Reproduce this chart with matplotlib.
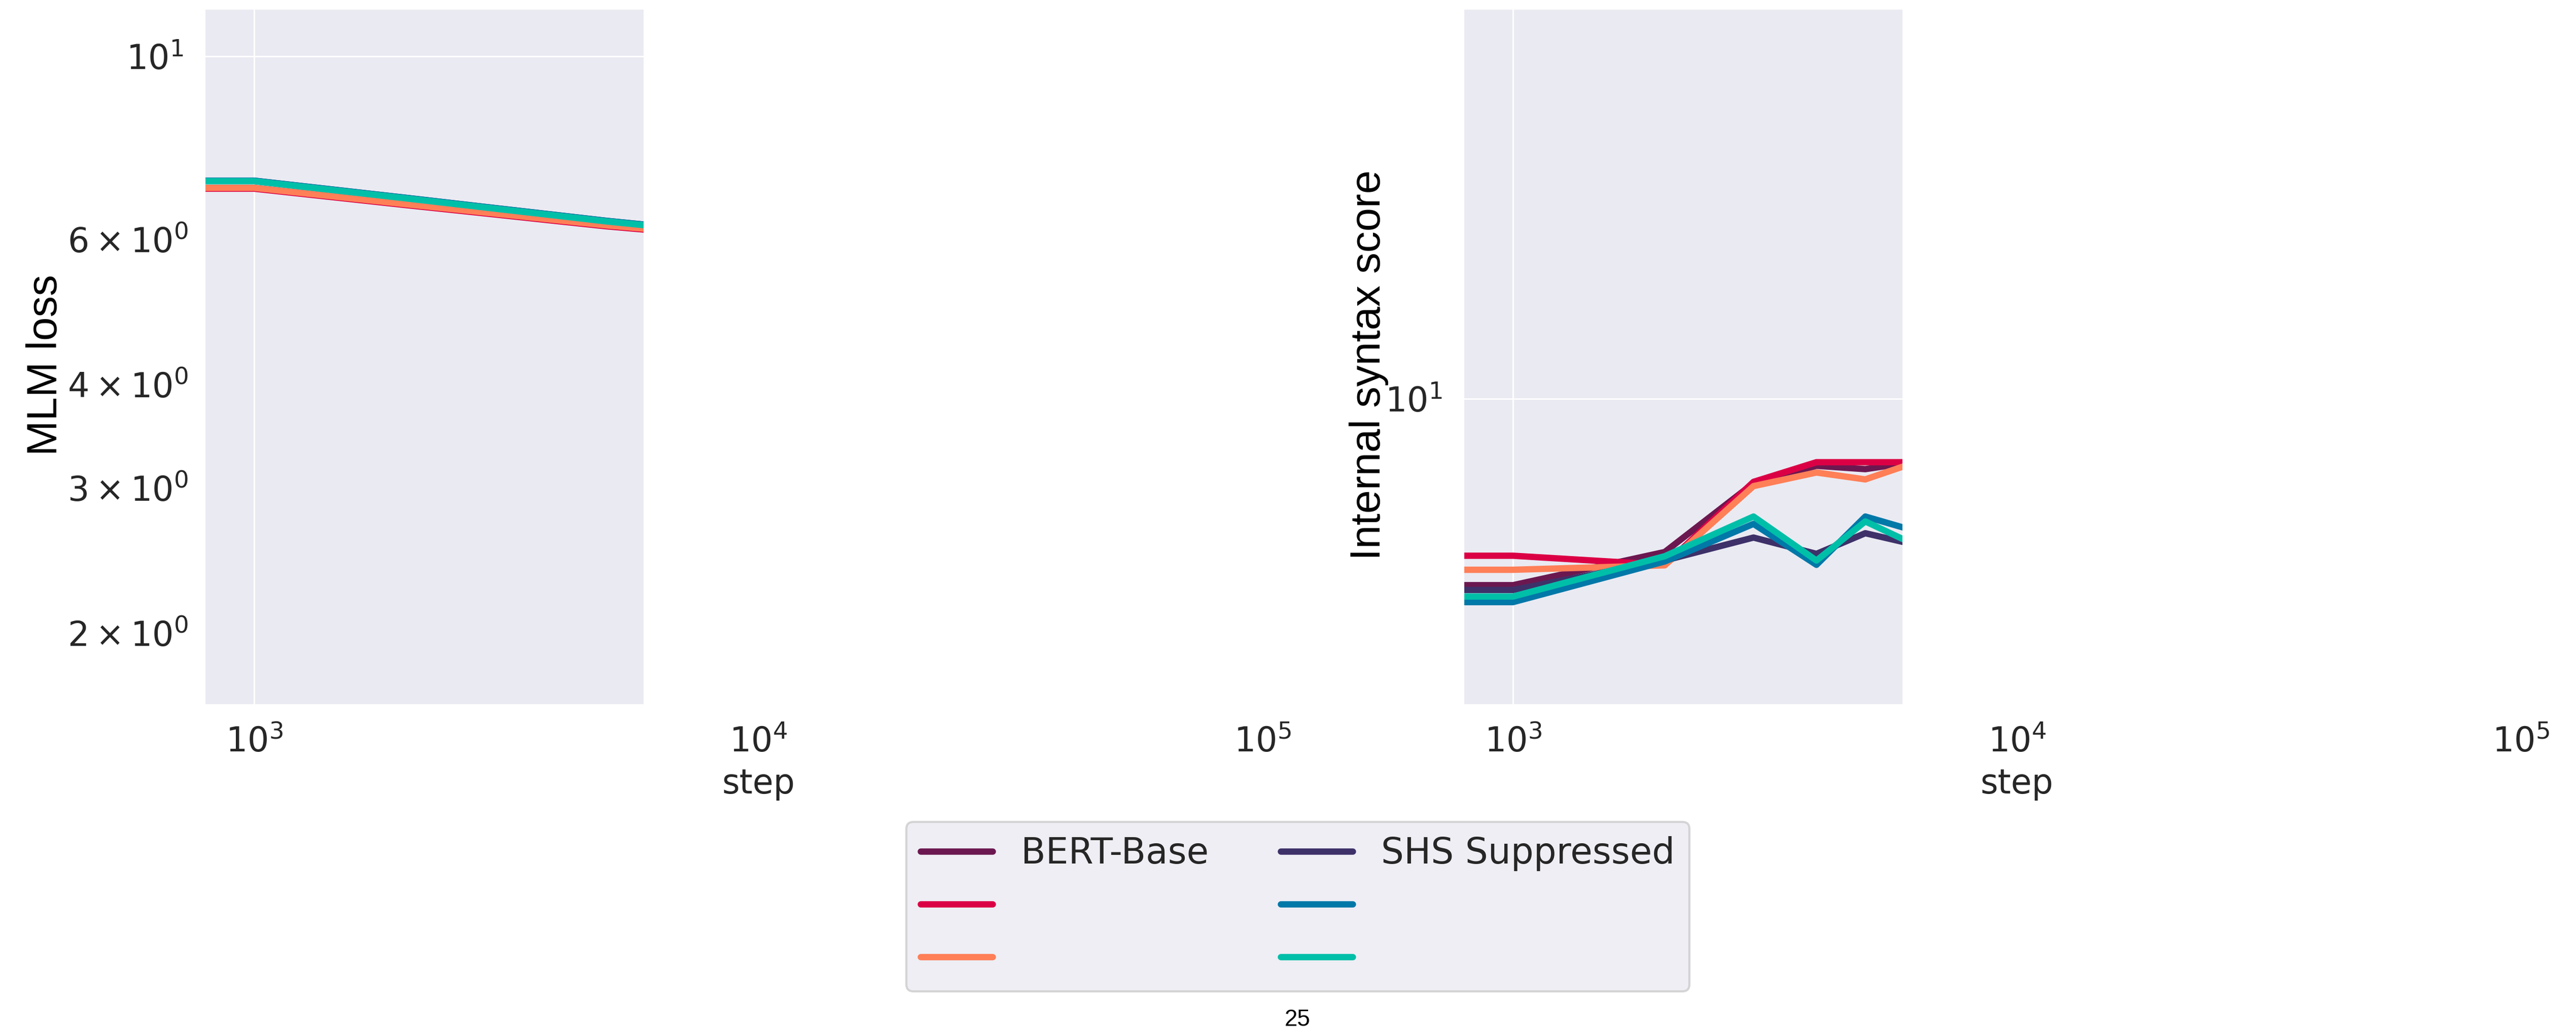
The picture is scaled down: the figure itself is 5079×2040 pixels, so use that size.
import matplotlib

matplotlib.use("Agg")
import matplotlib.pyplot as plt
import seaborn as sns
from matplotlib.lines import Line2D

# training checkpoints (step 0 sits on the clipped left end of the log axis)
steps = [0, 1000, 2000, 3000, 4000, 5000, 6000]

run_colors = ["#6c1850", "#db0045", "#ff7f57", "#3e3169", "#0078a8", "#00bfa8"]
run_labels = ["BERT-Base", "", "", "SHS Suppressed", "", ""]

# MLM loss per run
mlm_base_1 = [6.93, 6.93, 6.62, 6.45, 6.33, 6.24, 6.18]
mlm_base_2 = [6.915, 6.915, 6.605, 6.435, 6.315, 6.225, 6.165]
mlm_base_3 = [6.93, 6.93, 6.62, 6.45, 6.33, 6.24, 6.18]
mlm_shs_1 = [7.07, 7.07, 6.74, 6.55, 6.42, 6.32, 6.25]
mlm_shs_2 = [7.07, 7.07, 6.74, 6.55, 6.42, 6.32, 6.25]
mlm_shs_3 = [7.06, 7.06, 6.73, 6.54, 6.41, 6.31, 6.24]

# internal syntax score per run
syn_base_1 = [4.81, 4.81, 5.48, 7.18, 7.69, 7.59, 7.77]
syn_base_2 = [5.40, 5.40, 5.21, 7.22, 7.80, 7.80, 7.80]
syn_base_3 = [5.11, 5.11, 5.20, 7.10, 7.49, 7.29, 7.69]
syn_shs_1 = [4.72, 4.72, 5.30, 5.80, 5.44, 5.90, 5.69]
syn_shs_2 = [4.50, 4.50, 5.28, 6.12, 5.21, 6.30, 6.02]
syn_shs_3 = [4.60, 4.60, 5.39, 6.30, 5.30, 6.18, 5.74]

STEP_LO, STEP_HI = 10 ** 2.9, 10 ** 5.1
BAND_END = 5920

sns.set_theme(style="darkgrid")
plt.rcParams["font.family"] = ["DejaVu Sans"]
plt.rcParams["grid.linewidth"] = 0.7

fig = plt.figure(figsize=(5079 / 300, 2040 / 300), dpi=300)
ax_loss = fig.add_axes([0.0791, 0.3186, 0.4306, 0.6736])
ax_syn = fig.add_axes([0.5678, 0.3186, 0.4304, 0.6736])


def draw_panel(ax, series, ylim, ylabel, label_x):
    ax.set_facecolor("white")
    ax.set_xscale("log")
    ax.set_yscale("log")
    band = ax.axvspan(STEP_LO, BAND_END, facecolor="#eaeaf2", lw=0, zorder=0)
    for values, color in zip(series, run_colors):
        (ln,) = ax.plot(steps, values, color=color, lw=3)
        ln.set_clip_path(band)
    ax.set_xlim(STEP_LO, STEP_HI)
    ax.set_ylim(*ylim)
    ax.tick_params(which="both", labelsize=16, colors=".15")
    ax.set_xlabel("step", fontsize=16, color=".15")
    ax.set_ylabel(ylabel, fontsize=20, color="black", family="Liberation Sans")
    ax.yaxis.set_label_coords(label_x, 0.488)


draw_panel(
    ax_loss,
    [mlm_base_1, mlm_base_2, mlm_base_3, mlm_shs_1, mlm_shs_2, mlm_shs_3],
    (1.634, 11.45),
    "MLM loss",
    -0.1248,
)
draw_panel(
    ax_syn,
    [syn_base_1, syn_base_2, syn_base_3, syn_shs_1, syn_shs_2, syn_shs_3],
    (3.0, 46.5),
    "Internal syntax score",
    -0.0668,
)

handles = [Line2D([], [], color=c, lw=3) for c in run_colors]
fig.legend(
    handles,
    run_labels,
    loc="upper center",
    bbox_to_anchor=(0.5038, 0.2059),
    borderaxespad=0,
    ncol=2,
    fontsize=17,
    labelcolor=".15",
)

fig.text(0.5036, 0.0147, "25", ha="center", va="center",
         fontsize=11, color="black", family="Liberation Sans")

fig.savefig("out.png", dpi=300)
